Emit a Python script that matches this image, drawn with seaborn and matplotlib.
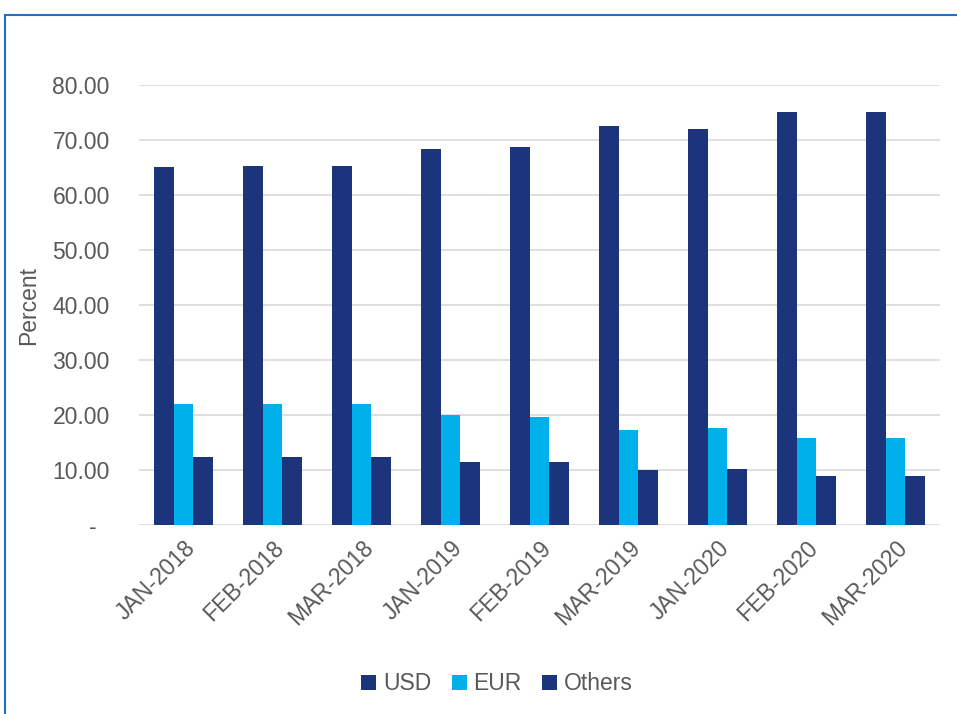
import matplotlib
matplotlib.use("Agg")
import matplotlib.pyplot as plt
from matplotlib.patches import Rectangle
from matplotlib.ticker import FuncFormatter
import seaborn as sns
import pandas as pd

months = ["JAN-2018", "FEB-2018", "MAR-2018", "JAN-2019", "FEB-2019",
          "MAR-2019", "JAN-2020", "FEB-2020", "MAR-2020"]
usd = [65.2, 65.4, 65.4, 68.4, 68.8, 72.6, 72.0, 75.1, 75.1]
eur = [22.1, 22.0, 22.1, 20.0, 19.6, 17.3, 17.6, 15.8, 15.8]
others = [12.4, 12.4, 12.3, 11.4, 11.4, 10.0, 10.1, 9.0, 9.0]
series = ["USD", "EUR", "Others"]
yticks = [0, 10, 20, 30, 40, 50, 60, 70, 80]

df = pd.DataFrame({"Month": months, "USD": usd, "EUR": eur, "Others": others})
long = df.melt(id_vars="Month", value_vars=series, var_name="Currency", value_name="Percent")

sns.set_theme(style="white")
plt.rcParams["font.family"] = ["Liberation Sans", "DejaVu Sans"]

navy = "#1B347B"
cyan = "#00B0EA"
grey_text = "#595959"
palette = {"USD": navy, "EUR": cyan, "Others": navy}
fs = 16.5

fig = plt.figure(figsize=(9.57, 7.14), dpi=100)
ax = fig.add_axes([139 / 957, 1 - 525 / 714, (940 - 139) / 957, (525 - 85.3) / 714])

sns.barplot(data=long, x="Month", y="Percent", hue="Currency", hue_order=series,
            order=months, palette=palette, width=0.665, saturation=1,
            edgecolor="none", linewidth=0, ax=ax)

ax.set_ylim(0, 80)
ax.set_yticks(yticks)
ax.yaxis.set_major_formatter(FuncFormatter(lambda v, p: "-  " if v == 0 else f"{v:.2f}"))
ax.grid(axis="y", color="#D9D9D9", linewidth=1.2)
ax.set_axisbelow(True)
for s in ax.spines.values():
    s.set_visible(False)
ax.tick_params(axis="both", length=0, labelsize=fs, labelcolor=grey_text)
ax.tick_params(axis="y", pad=21)
ax.tick_params(axis="x", pad=8)
for lbl in ax.get_xticklabels():
    lbl.set_rotation(45)
    lbl.set_ha("right")
    lbl.set_rotation_mode("anchor")

ax.set_xlabel("")
ax.set_ylabel("Percent", fontsize=fs, color=grey_text)
ax.yaxis.set_label_coords(-0.124, 0.5)

handles, labels = ax.get_legend_handles_labels()
ax.legend_.remove()
fig.legend(handles, labels, loc="center", bbox_to_anchor=(497 / 957, 1 - 684 / 714),
           ncol=3, frameon=False, fontsize=fs, labelcolor=grey_text,
           handlelength=0.65, handleheight=0.65, handletextpad=0.3, columnspacing=0.9)

# outer frame of the chart panel
fig.patches.append(Rectangle((5 / 957, -0.1), 1.2, 1 - 14.5 / 714 + 0.1,
                             transform=fig.transFigure, fill=False,
                             edgecolor="#1E73BE", linewidth=1.5))

fig.savefig("out.png", dpi=100)
